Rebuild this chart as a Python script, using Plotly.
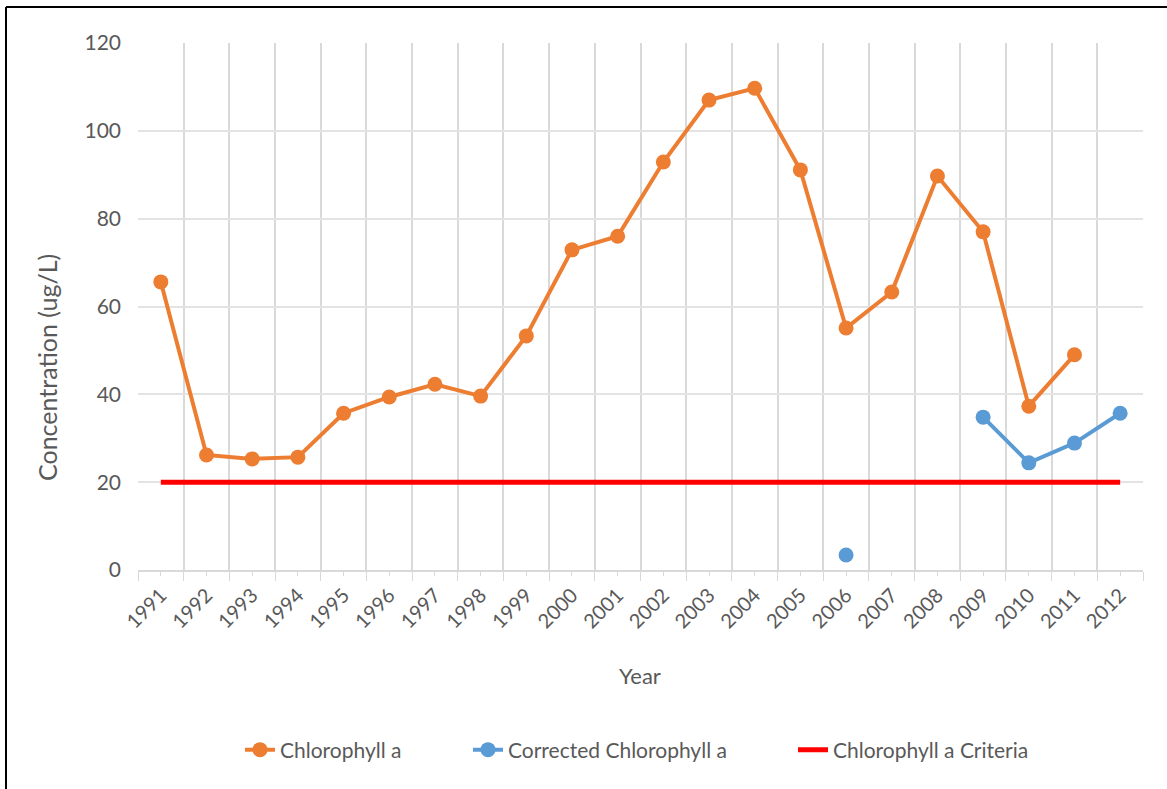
import plotly.graph_objects as go

years = list(range(1991, 2013))
chl_years = list(range(1991, 2012))
chl = [65.6, 26.2, 25.3, 25.7, 35.7, 39.4, 42.3, 39.6, 53.3, 72.9, 76.0,
       92.9, 107.0, 109.7, 91.1, 55.1, 63.3, 89.7, 77.0, 37.3, 49.0]
corr_years = [2006, 2007, 2008, 2009, 2010, 2011, 2012]
corr = [3.4, None, None, 34.8, 24.4, 28.9, 35.7]
crit_years = [1991, 2012]
crit = [20, 20]

FONT = "Lato"
GRAY = "#595959"
GRID = "#d9d9d9"

fig = go.Figure()
fig.add_trace(go.Scatter(x=chl_years, y=chl, mode="lines+markers", name="Chlorophyll a",
                         line=dict(color="#ed7d31", width=4), marker=dict(size=15, color="#ed7d31"),
                         legend="legend"))
fig.add_trace(go.Scatter(x=corr_years, y=corr, mode="lines+markers", name="Corrected Chlorophyll a",
                         line=dict(color="#5b9bd5", width=4), marker=dict(size=15, color="#5b9bd5"),
                         connectgaps=False, legend="legend2"))
fig.add_trace(go.Scatter(x=crit_years, y=crit, mode="lines", name="Chlorophyll a Criteria",
                         line=dict(color="#ff0000", width=5), legend="legend3"))

W, H = 1167, 789
L, R, T, B = 138, 1143, 43, 570
pw, ph = R - L, B - T

def px(x):
    return (x - L) / pw

def py(y):
    return (B - y) / ph

legfont = dict(family=FONT, size=21, color=GRAY)
fig.update_layout(
    width=W, height=H,
    margin=dict(l=L, r=W - R, t=T, b=H - B),
    paper_bgcolor="white", plot_bgcolor="white",
    font=dict(family=FONT, color=GRAY, size=19),
    showlegend=True,
    legend=dict(x=px(240), y=py(750), xanchor="left", yanchor="middle", font=legfont, bgcolor="rgba(0,0,0,0)"),
    legend2=dict(x=px(468), y=py(750), xanchor="left", yanchor="middle", font=legfont, bgcolor="rgba(0,0,0,0)"),
    legend3=dict(x=px(793), y=py(750), xanchor="left", yanchor="middle", font=legfont, bgcolor="rgba(0,0,0,0)"),
    xaxis=dict(
        range=[1990.5, 2012.5], tickvals=years, ticktext=[str(y) for y in years],
        tickangle=-45, tickfont=dict(family=FONT, size=20, color=GRAY),
        showgrid=False, zeroline=False, showline=True, linecolor=GRID, linewidth=1.5,
        ticks="outside", ticklen=4, tickcolor=GRID,
        minor=dict(tick0=1990.5, dtick=1, showgrid=True, gridcolor=GRID, gridwidth=1.5,
                   ticks="outside", ticklen=9, tickcolor=GRID),
    ),
    yaxis=dict(
        range=[0, 120], dtick=20, showgrid=True, gridcolor="#e3e3e3", gridwidth=1.5,
        zeroline=False, showline=False, ticks="", ticklabelstandoff=16,
        tickfont=dict(family=FONT, size=21, color=GRAY),
    ),
    annotations=[
        dict(text="Concentration (ug/L)", x=px(47), y=py(368), xref="paper", yref="paper",
             xanchor="center", yanchor="middle",
             textangle=-90, showarrow=False, font=dict(family=FONT, size=25, color=GRAY)),
        dict(text="Year", x=px(640), y=py(675), xref="paper", yref="paper",
             xanchor="center", yanchor="middle",
             showarrow=False, font=dict(family=FONT, size=22, color=GRAY)),
    ],
    shapes=[
        dict(type="line", xref="paper", yref="paper", x0=px(6), x1=px(1170), y0=py(7), y1=py(7),
             line=dict(color="black", width=2)),
        dict(type="line", xref="paper", yref="paper", x0=px(6), x1=px(6), y0=py(7), y1=py(795),
             line=dict(color="black", width=2)),
    ],
)

fig.write_html("out.html", config={"displayModeBar": False},
               post_script="document.body.style.margin='0';document.body.style.padding='0';")
